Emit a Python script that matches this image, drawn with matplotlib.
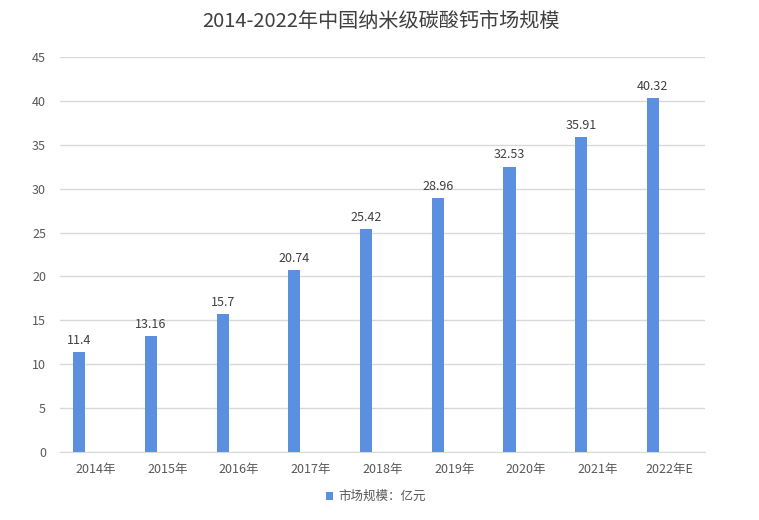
import numpy as np
import matplotlib.pyplot as plt

plt.rcParams['font.family'] = ['Noto Sans CJK SC', 'DejaVu Sans']

# 数据
years = ["2014年", "2015年", "2016年", "2017年", "2018年", "2019年", "2020年", "2021年", "2022年E"]
market_size = [11.4, 13.16, 15.7, 20.74, 25.42, 28.96, 32.53, 35.91, 40.32]
value_labels = ["11.4", "13.16", "15.7", "20.74", "25.42", "28.96", "32.53", "35.91", "40.32"]

fig = plt.figure(figsize=(7.59, 5.2), dpi=100)
ax = fig.add_axes([0.079, 0.131, 0.85, 0.759])

x = np.arange(len(years))
bars = ax.bar(x - 0.23, market_size, width=0.17, color="#5B8FE0", label="市场规模：亿元", zorder=3)

for b, lab in zip(bars, value_labels):
    ax.text(b.get_x() + b.get_width() / 2, b.get_height() + 0.6, lab,
            ha="center", va="bottom", fontsize=9, color="#404040")

ax.set_xlim(-0.5, len(years) - 0.5)
ax.set_ylim(0, 45)
ax.set_yticks(range(0, 46, 5))
ax.set_xticks(x)
ax.set_xticklabels(years)
ax.tick_params(axis="both", length=0, labelsize=9, colors="#595959")
ax.tick_params(axis="x", pad=8)
ax.tick_params(axis="y", pad=10)
ax.grid(axis="y", color="#D9D9D9", linewidth=1, zorder=0)
for s in ["top", "right", "left"]:
    ax.spines[s].set_visible(False)
ax.spines["bottom"].set_color("#D9D9D9")

fig.suptitle("2014-2022年中国纳米级碳酸钙市场规模", x=0.502, y=0.978, fontsize=14.5, color="#404040")

fig.legend(loc="center", bbox_to_anchor=(0.495, 0.045), frameon=False, fontsize=9,
           handlelength=0.6, handleheight=0.6, handletextpad=0.4, labelcolor="#595959")

fig.savefig("out.png", dpi=100)
